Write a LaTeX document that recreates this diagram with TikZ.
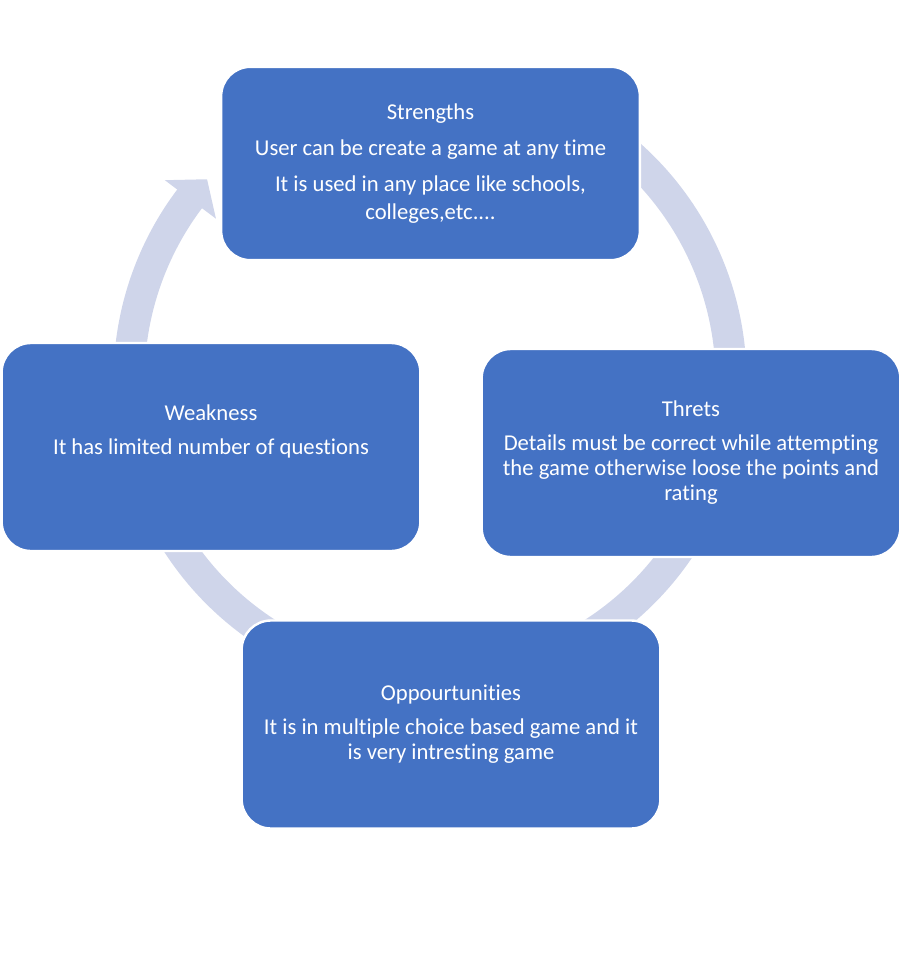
\documentclass[tikz,border=0pt]{standalone}
\usepackage{fontspec}
\setmainfont{Carlito}[Ligatures={NoCommon}]
\usepackage{xcolor}
\usetikzlibrary{positioning, arrows.meta, calc}
\definecolor{swotblue}{HTML}{4472C4}
\definecolor{ringblue}{HTML}{CFD5EA}

\tikzset{
  swotbox/.style={fill=swotblue, draw=white, line width=1.8pt, rounded corners=22pt,
    minimum width=314pt, text=white, align=center,
    font=\fontsize{17}{21}\selectfont},
  tightlines/.style={font=\fontsize{17}{18.75}\selectfont},
  ringline/.style={draw=ringblue, line width=23.25pt}
}

\begin{document}
\begin{tikzpicture}[x=0.75pt, y=-0.75pt]
    \useasboundingbox (0,0) rectangle (902,980);
    \coordinate (ctr) at (430,380);
    % cycle ring behind the boxes
    \draw[ringline] ($(ctr)+(290:301)$) arc[start angle=290, end angle=577.6, radius=301];
    \fill[ringblue] ($(ctr)+(577:332)$) -- ($(ctr)+(582:300)$) -- ($(ctr)+(577:268)$) -- cycle;
    % the four boxes
    \node[swotbox, minimum height=145pt] (strengths) at (430.5,163.5) {%
      Strengths\\[6pt]
      User can be create a game at any time\\[5.5pt]
      It is used in any place like schools,\\
      colleges,etc....};
    \node[swotbox, tightlines, minimum height=156pt] (threts) at (691,453) {%
      Threts\\[6.75pt]
      Details must be correct while attempting\\
      the game otherwise loose the points and\\
      rating};
    \node[swotbox, tightlines, minimum height=156pt] (opport) at (451,724.5) {%
      Oppourtunities\\[6.75pt]
      It is in multiple choice based game and it\\
      is very intresting game};
    \node[swotbox, minimum height=156pt] (weak) at (211,447) {%
      Weakness\\[5pt]
      It has limited number of questions\\[5pt]
      \mbox{}};
\end{tikzpicture}
\end{document}
